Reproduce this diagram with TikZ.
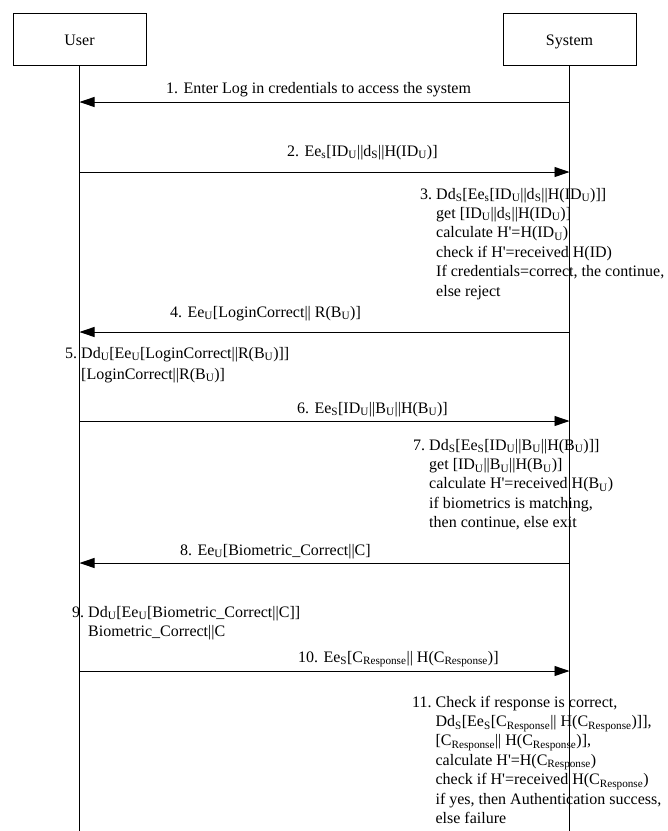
\documentclass[tikz,border=0pt]{standalone}
\usepackage{fontspec}
\setmainfont{Liberation Serif}
\usetikzlibrary{arrows.meta}
% subscript, straight apostrophe and step-number helpers
\newcommand\sbs[1]{\textsubscript{#1}}
\newcommand\hq{\textquotesingle}
\newcommand\stepno[1]{\mbox{#1\ }}
\begin{document}
\begin{tikzpicture}[x=1pt,y=-1pt,
  every node/.style={font=\fontsize{16}{19.4}\selectfont, inner sep=0pt},
  actor/.style={draw, line width=0.9pt, minimum width=133pt, minimum height=52pt,
                text height=13pt, text depth=0pt},
  lifeline/.style={line width=0.9pt},
  msg/.style={line width=0.9pt, -{Triangle[length=15pt,width=10pt]}},
  lbl/.style={anchor=base west},
  note/.style={anchor=base west}]
\useasboundingbox (0,0) rectangle (668,831);

% participants
\node[actor] (user) at (79.5,39) {User};
\node[actor] (sys)  at (569.5,39) {System};
\coordinate (ubot) at (user.south |- 0,831);
\coordinate (sbot) at (sys.south |- 0,831);
\draw[lifeline] (user.south) -- (ubot);
\draw[lifeline] (sys.south) -- (sbot);

% message anchor points on the lifelines
\foreach \n/\y in {1/102, 2/172, 4/332, 6/421, 8/563, 10/671}{
  \coordinate (u\n) at (user.south |- 0,\y);
  \coordinate (s\n) at (sys.south |- 0,\y);
}

% 1
\draw[msg] (s1) -- (u1);
\node[lbl] (m1) at (166,93) {1. Enter Log in credentials to access the system};

% 2
\draw[msg] (u2) -- (s2);
\node[lbl] (m2) at (287,156) {2. Ee\sbs{s}[ID\sbs{U}||d\sbs{S}||H(ID\sbs{U})]};

% 3
\node[note] (n3) at (420,199) {\begin{tabular}[t]{@{}l@{}l@{}}
\stepno{3.} & Dd\sbs{S}[Ee\sbs{s}[ID\sbs{U}||d\sbs{S}||H(ID\sbs{U})]]\\
& get [ID\sbs{U}||d\sbs{S}||H(ID\sbs{U})]\\
& calculate H\hq=H(ID\sbs{U})\\
& check if H\hq=received H(ID)\\
& If credentials=correct, the continue,\\
& else reject
\end{tabular}};

% 4
\draw[msg] (s4) -- (u4);
\node[lbl] (m4) at (170,317) {4. Ee\sbs{U}[LoginCorrect|| R(B\sbs{U})]};

% 5
\node[note] (n5) at (65,358) {\begin{tabular}[t]{@{}l@{}l@{}}
\stepno{5.} & Dd\sbs{U}[Ee\sbs{U}[LoginCorrect||R(B\sbs{U})]]\\[2pt]
& [LoginCorrect||R(B\sbs{U})]
\end{tabular}};

% 6
\draw[msg] (u6) -- (s6);
\node[lbl] (m6) at (297,413) {6. Ee\sbs{S}[ID\sbs{U}||B\sbs{U}||H(B\sbs{U})]};

% 7
\node[note] (n7) at (413,450) {\begin{tabular}[t]{@{}l@{}l@{}}
\stepno{7.} & Dd\sbs{S}[Ee\sbs{S}[ID\sbs{U}||B\sbs{U}||H(B\sbs{U})]]\\
& get [ID\sbs{U}||B\sbs{U}||H(B\sbs{U})]\\
& calculate H\hq=received H(B\sbs{U})\\
& if biometrics is matching,\\
& then continue, else exit
\end{tabular}};

% 8
\draw[msg] (s8) -- (u8);
\node[lbl] (m8) at (180,555) {8. Ee\sbs{U}[Biometric\_Correct||C]};

% 9
\node[note] (n9) at (72,617) {\begin{tabular}[t]{@{}l@{}l@{}}
\stepno{9.} & Dd\sbs{U}[Ee\sbs{U}[Biometric\_Correct||C]]\\
& Biometric\_Correct||C
\end{tabular}};

% 10
\draw[msg] (u10) -- (s10);
\node[lbl] (m10) at (298,662) {10. Ee\sbs{S}[C\sbs{Response}|| H(C\sbs{Response})]};

% 11
\node[note] (n11) at (412,707) {\begin{tabular}[t]{@{}l@{}l@{}}
\stepno{11.} & Check if response is correct,\\
& Dd\sbs{S}[Ee\sbs{S}[C\sbs{Response}|| H(C\sbs{Response})]],\\
& [C\sbs{Response}|| H(C\sbs{Response})],\\
& calculate H\hq=H(C\sbs{Response})\\
& check if H\hq=received H(C\sbs{Response})\\
& if yes, then Authentication success,\\
& else failure
\end{tabular}};
\end{tikzpicture}
\end{document}
